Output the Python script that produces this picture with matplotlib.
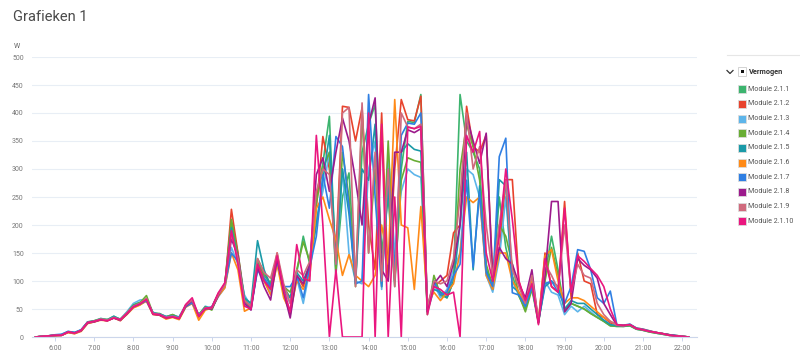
import numpy as np
import pandas as pd
import matplotlib
matplotlib.use('Agg')
import matplotlib.pyplot as plt
from matplotlib.patches import Rectangle
from matplotlib.lines import Line2D

plt.rcParams['font.family'] = ['Roboto', 'DejaVu Sans']

# 10 minute samples, 05:30 - 22:10
times = pd.date_range('2024-06-01 05:30', '2024-06-01 22:10', freq='10min')
hours = np.asarray(times.hour + times.minute / 60.0)

module_names = ['Module 2.1.1', 'Module 2.1.2', 'Module 2.1.3', 'Module 2.1.4',
                'Module 2.1.5', 'Module 2.1.6', 'Module 2.1.7', 'Module 2.1.8',
                'Module 2.1.9', 'Module 2.1.10']
colors = ['#3cb46e', '#e8432d', '#5db5ea', '#68ad34', '#1a9aa8',
          '#ff8a17', '#2f7fe3', '#9c1a8c', '#d06a7d', '#ea167f']

m211 = [0, 1, 2, 3, 4, 9, 7, 12, 27, 29, 33, 31, 37, 31, 44, 58, 62, 66, 43, 41, 36, 40, 35, 55, 60, 40, 53, 50, 74, 95,
        205, 150, 70, 55, 135, 110, 95, 140, 90, 70, 115, 180, 130, 250, 310, 394, 120, 250, 293, 100,
        330, 380, 415, 150, 250, 90, 300, 385, 383, 433,
        45, 100, 80, 75, 110, 433, 350, 330, 300, 120, 95, 250, 160, 110, 73, 50, 90, 30, 110, 180,
        120, 45, 60, 55, 50, 42, 35, 28, 20,
        19, 19, 20, 14, 12, 9, 7, 5, 3, 2, 1, 0]
m212 = [0, 1, 2, 2, 3, 8, 6, 11, 25, 27, 31, 29, 34, 29, 41, 53, 58, 64, 40, 39, 33, 36, 32, 54, 64, 35, 50, 53, 78, 90,
        228, 150, 65, 50, 130, 105, 85, 150, 80, 40, 110, 90, 125, 230, 358, 300, 150, 412, 410, 350,
        409, 200, 120, 400, 100, 300, 424, 388, 386, 430,
        50, 90, 100, 110, 186, 200, 412, 340, 330, 361, 110, 150, 281, 281, 100, 60, 100, 25, 150, 90,
        80, 242, 70, 150, 100, 95, 40, 35, 25,
        21, 20, 22, 15, 13, 10, 8, 6, 4, 2, 1, 0]
m213 = [0, 1, 2, 3, 4, 10, 8, 13, 27, 28, 33, 31, 36, 32, 45, 60, 66, 67, 44, 41, 37, 38, 36, 57, 61, 39, 55, 51, 72, 88,
        160, 130, 75, 55, 120, 100, 80, 130, 85, 60, 105, 60, 120, 210, 260, 330, 110, 300, 150, 100,
        95, 300, 350, 85, 330, 150, 260, 300, 290, 285,
        55, 95, 70, 85, 120, 150, 300, 290, 250, 110, 80, 140, 250, 100, 75, 55, 95, 30, 100, 80,
        75, 40, 55, 45, 55, 45, 35, 30, 22,
        20, 19, 21, 14, 12, 10, 7, 5, 3, 2, 1, 0]
m214 = [0, 1, 2, 3, 3, 9, 7, 12, 26, 29, 32, 31, 35, 32, 43, 57, 61, 74, 42, 42, 36, 40, 34, 56, 63, 40, 54, 48, 76, 94,
        210, 145, 65, 55, 140, 115, 95, 145, 90, 80, 120, 170, 135, 240, 300, 330, 110, 330, 250, 90,
        400, 150, 300, 90, 350, 100, 280, 320, 315, 312,
        40, 110, 75, 70, 100, 300, 380, 340, 280, 130, 90, 200, 180, 130, 75, 45, 85, 25, 100, 160,
        110, 50, 60, 55, 50, 42, 35, 28, 20,
        19, 19, 20, 14, 12, 9, 7, 5, 3, 2, 1, 0]
m215 = [0, 1, 2, 3, 4, 9, 8, 12, 27, 28, 32, 30, 37, 31, 42, 56, 60, 66, 43, 40, 35, 38, 35, 55, 62, 38, 53, 52, 75, 91,
        195, 140, 70, 60, 172, 120, 90, 140, 85, 70, 115, 100, 130, 200, 280, 360, 130, 300, 220, 95,
        300, 280, 380, 95, 270, 100, 330, 345, 335, 332,
        45, 85, 80, 70, 100, 200, 330, 120, 270, 120, 85, 281, 270, 90, 80, 55, 90, 28, 90, 100,
        90, 50, 65, 60, 60, 50, 40, 30, 22,
        20, 20, 21, 15, 13, 10, 8, 6, 4, 2, 1, 0]
m216 = [0, 1, 2, 3, 3, 8, 6, 10, 24, 27, 30, 29, 34, 30, 40, 52, 57, 65, 41, 39, 32, 35, 31, 53, 60, 30, 48, 52, 73, 88,
        150, 120, 46, 52, 125, 100, 75, 130, 70, 45, 100, 85, 110, 230, 250, 210, 174, 110, 147, 110,
        100, 90, 110, 200, 130, 424, 200, 195, 85, 233,
        60, 80, 65, 80, 95, 150, 250, 240, 250, 110, 85, 150, 150, 100, 80, 60, 100, 30, 145, 156,
        100, 60, 70, 70, 65, 55, 45, 35, 28,
        22, 21, 22, 16, 14, 11, 8, 6, 4, 3, 1, 0]
m217 = [0, 1, 2, 4, 5, 10, 8, 13, 26, 28, 31, 30, 34, 31, 42, 54, 59, 65, 42, 41, 36, 37, 35, 54, 61, 40, 50, 54, 77, 93,
        150, 135, 60, 50, 120, 105, 90, 135, 90, 90, 110, 70, 125, 180, 290, 230, 358, 340, 233, 95,
        100, 433, 250, 90, 300, 120, 360, 382, 380, 400,
        50, 100, 75, 80, 110, 130, 280, 125, 260, 115, 90, 322, 355, 79, 75, 55, 90, 28, 95, 100,
        80, 60, 90, 156, 153, 120, 70, 60, 82,
        22, 21, 23, 16, 14, 11, 8, 6, 4, 3, 1, 0]
m218 = [0, 1, 2, 3, 3, 9, 7, 11, 25, 27, 31, 29, 34, 30, 41, 54, 59, 68, 41, 39, 34, 36, 33, 55, 65, 37, 51, 50, 74, 96,
        175, 145, 60, 48, 125, 90, 66, 140, 80, 34, 110, 95, 130, 290, 320, 260, 330, 391, 350, 280,
        200, 380, 427, 120, 100, 330, 330, 370, 365, 372,
        45, 95, 110, 90, 132, 200, 395, 350, 310, 364, 100, 160, 140, 130, 95, 70, 120, 25, 110, 242,
        242, 45, 60, 140, 128, 120, 105, 60, 40,
        21, 20, 22, 15, 13, 10, 8, 6, 4, 2, 1, 0]
m219 = [0, 1, 2, 3, 3, 9, 7, 12, 26, 28, 32, 30, 35, 31, 43, 55, 60, 69, 42, 40, 35, 37, 34, 57, 66, 38, 52, 52, 76, 93,
        185, 140, 65, 55, 140, 115, 105, 150, 95, 60, 120, 110, 135, 260, 300, 290, 130, 400, 410, 90,
        418, 150, 330, 100, 300, 90, 400, 375, 372, 380,
        55, 100, 95, 100, 140, 250, 400, 300, 340, 200, 110, 200, 280, 120, 90, 60, 110, 30, 130, 110,
        85, 200, 80, 130, 110, 105, 60, 40, 28,
        21, 20, 22, 15, 13, 10, 8, 6, 3, 2, 1, 0]
m2110 = [0, 1, 2, 3, 3, 9, 7, 12, 26, 28, 31, 29, 34, 31, 42, 54, 59, 67, 41, 40, 34, 36, 33, 58, 70, 37, 51, 53, 79, 97,
         190, 130, 55, 50, 130, 100, 85, 145, 85, 45, 165, 105, 100, 360, 200, 0, 120, 0, 0, 0,
         0, 400, 0, 380, 0, 250, 0, 375, 372, 376,
         40, 90, 85, 75, 80, 0, 360, 330, 367, 150, 100, 180, 300, 210, 100, 65, 95, 22, 140, 90,
         80, 230, 80, 145, 135, 122, 110, 90, 50,
         22, 21, 22, 15, 13, 10, 8, 6, 3, 2, 1, 0]

series = [m211, m212, m213, m214, m215, m216, m217, m218, m219, m2110]

W, H = 800, 357
fig = plt.figure(figsize=(W / 100, H / 100), dpi=100)
fig.patch.set_facecolor('white')

ax = fig.add_axes([32 / W, 20 / H, 665 / W, 280 / H])
for vals, c in zip(series, colors):
    ax.plot(hours, vals, color=c, lw=1.2, solid_joinstyle='round', solid_capstyle='round')

ax.set_xlim(5.413, 22.378)
ax.set_ylim(0, 500)
ax.set_yticks(range(0, 501, 50))
ax.set_xticks(range(6, 23))
ax.set_xticklabels([f'{h}:00' for h in range(6, 23)])
ax.grid(axis='y', color='#e8eef5', lw=0.8)
ax.set_axisbelow(True)
for s in ['top', 'right', 'left']:
    ax.spines[s].set_visible(False)
ax.spines['bottom'].set_color('#ccd6eb')
ax.spines['bottom'].set_linewidth(0.8)
ax.tick_params(axis='y', length=0, pad=6, labelsize=5, labelcolor='#777777')
ax.tick_params(axis='x', length=3, width=0.7, color='#ccd6eb', pad=3,
               labelsize=5, labelcolor='#777777')

# title and unit
fig.text(13 / W, 1 - 17 / H, 'Grafieken 1', fontsize=10.5, color='#4a4a4a', va='center')
fig.text(14 / W, 1 - 46 / H, 'W', fontsize=5, color='#666666', va='center')

# legend panel
fig.add_artist(Line2D([727 / W, 1.0], [1 - 55 / H, 1 - 55 / H], color='#e6e6e6', lw=0.8))
fig.add_artist(Line2D([727 / W, 730 / W, 733 / W], [1 - 70.5 / H, 1 - 73.5 / H, 1 - 70.5 / H],
                      color='#333333', lw=0.9))
fig.add_artist(Rectangle((738 / W, 1 - 75.5 / H), 8 / W, 8 / H, facecolor='white',
                         edgecolor='#cccccc', lw=0.6))
fig.add_artist(Rectangle((740.5 / W, 1 - 73 / H), 3 / W, 3 / H, facecolor='#111111',
                         edgecolor='none'))
fig.text(748.5 / W, 1 - 71.7 / H, 'Vermogen', fontsize=5.3, fontweight='bold',
         color='#333333', va='center')

for k, (name, c) in enumerate(zip(module_names, colors)):
    yc = 89.3 + k * 14.67
    fig.add_artist(Rectangle((738 / W, 1 - (yc + 4) / H), 8 / W, 8 / H, facecolor=c,
                             edgecolor='#dcdcdc', lw=0.6))
    fig.text(748.5 / W, 1 - yc / H, name, fontsize=5.1, color='#555555', va='center')

fig.savefig('out.png', dpi=100)
